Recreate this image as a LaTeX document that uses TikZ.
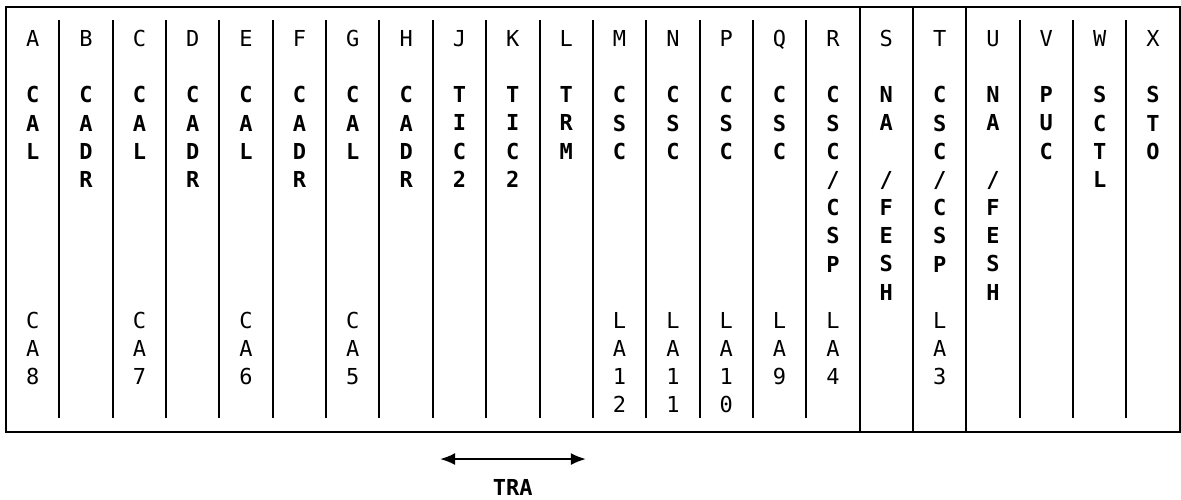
\documentclass[tikz,border=0pt]{standalone}
\usepackage{fontspec}
\setmonofont{DejaVu Sans Mono}
\usepackage{tikz}
\usetikzlibrary{arrows.meta}
\usetikzlibrary{positioning}
\tikzset{
	hdr/.style={font=\ttfamily\fontsize{22}{28.2}\selectfont, inner sep=0pt, anchor=north, align=center},
	modname/.style={hdr, font=\ttfamily\bfseries\fontsize{22}{28.2}\selectfont},
	slotid/.style={hdr},
	sep/.style={draw=black, line width=2pt},
	frame/.style={draw=black, line width=2pt},
	trarrow/.style={draw=black, line width=2pt, {Latex[length=15pt,width=12pt]}-{Latex[length=15pt,width=12pt]}},
}

\begin{document}
\begin{tikzpicture}[x=53.35pt,y=-28.2pt]
\useasboundingbox (-0.1125,-0.248) rectangle (22.024,17.447);
% frame and slot separators
\draw[frame] (0,0) rectangle (22,15.07);
\draw[sep] (1,0.46)--(1,14.57);
\draw[sep] (2,0.46)--(2,14.57);
\draw[sep] (3,0.46)--(3,14.57);
\draw[sep] (4,0.46)--(4,14.57);
\draw[sep] (5,0.46)--(5,14.57);
\draw[sep] (6,0.46)--(6,14.57);
\draw[sep] (7,0.46)--(7,14.57);
\draw[sep] (8,0.46)--(8,14.57);
\draw[sep] (9,0.46)--(9,14.57);
\draw[sep] (10,0.46)--(10,14.57);
\draw[sep] (11,0.46)--(11,14.57);
\draw[sep] (12,0.46)--(12,14.57);
\draw[sep] (13,0.46)--(13,14.57);
\draw[sep] (14,0.46)--(14,14.57);
\draw[sep] (15,0.46)--(15,14.57);
\draw[sep] (16,0)--(16,15.07);
\draw[sep] (17,0)--(17,15.07);
\draw[sep] (18,0)--(18,15.07);
\draw[sep] (19,0.46)--(19,14.57);
\draw[sep] (20,0.46)--(20,14.57);
\draw[sep] (21,0.46)--(21,14.57);

% slot letters
\node[hdr] (hA) at (0.5,0.815) {A};
\node[hdr] (hB) at (1.5,0.815) {B};
\node[hdr] (hC) at (2.5,0.815) {C};
\node[hdr] (hD) at (3.5,0.815) {D};
\node[hdr] (hE) at (4.5,0.815) {E};
\node[hdr] (hF) at (5.5,0.815) {F};
\node[hdr] (hG) at (6.5,0.815) {G};
\node[hdr] (hH) at (7.5,0.815) {H};
\node[hdr] (hJ) at (8.5,0.815) {J};
\node[hdr] (hK) at (9.5,0.815) {K};
\node[hdr] (hL) at (10.5,0.815) {L};
\node[hdr] (hM) at (11.5,0.815) {M};
\node[hdr] (hN) at (12.5,0.815) {N};
\node[hdr] (hP) at (13.5,0.815) {P};
\node[hdr] (hQ) at (14.5,0.815) {Q};
\node[hdr] (hR) at (15.5,0.815) {R};
\node[hdr] (hS) at (16.5,0.815) {S};
\node[hdr] (hT) at (17.5,0.815) {T};
\node[hdr] (hU) at (18.5,0.815) {U};
\node[hdr] (hV) at (19.5,0.815) {V};
\node[hdr] (hW) at (20.5,0.815) {W};
\node[hdr] (hX) at (21.5,0.815) {X};

% module names
\node[modname] (mA) at (0.5,2.815) {C\\A\\L};
\node[modname] (mB) at (1.5,2.815) {C\\A\\D\\R};
\node[modname] (mC) at (2.5,2.815) {C\\A\\L};
\node[modname] (mD) at (3.5,2.815) {C\\A\\D\\R};
\node[modname] (mE) at (4.5,2.815) {C\\A\\L};
\node[modname] (mF) at (5.5,2.815) {C\\A\\D\\R};
\node[modname] (mG) at (6.5,2.815) {C\\A\\L};
\node[modname] (mH) at (7.5,2.815) {C\\A\\D\\R};
\node[modname] (mJ) at (8.5,2.815) {T\\I\\C\\2};
\node[modname] (mK) at (9.5,2.815) {T\\I\\C\\2};
\node[modname] (mL) at (10.5,2.815) {T\\R\\M};
\node[modname] (mM) at (11.5,2.815) {C\\S\\C};
\node[modname] (mN) at (12.5,2.815) {C\\S\\C};
\node[modname] (mP) at (13.5,2.815) {C\\S\\C};
\node[modname] (mQ) at (14.5,2.815) {C\\S\\C};
\node[modname] (mR) at (15.5,2.815) {C\\S\\C\\/\\C\\S\\P};
\node[modname] (mS) at (16.5,2.815) {N\\A\\[28.2pt]/\\F\\E\\S\\H};
\node[modname] (mT) at (17.5,2.815) {C\\S\\C\\/\\C\\S\\P};
\node[modname] (mU) at (18.5,2.815) {N\\A\\[28.2pt]/\\F\\E\\S\\H};
\node[modname] (mV) at (19.5,2.815) {P\\U\\C};
\node[modname] (mW) at (20.5,2.815) {S\\C\\T\\L};
\node[modname] (mX) at (21.5,2.815) {S\\T\\O};

% slot ids
\node[slotid] (sA) at (0.5,10.815) {C\\A\\8};
\node[slotid] (sC) at (2.5,10.815) {C\\A\\7};
\node[slotid] (sE) at (4.5,10.815) {C\\A\\6};
\node[slotid] (sG) at (6.5,10.815) {C\\A\\5};
\node[slotid] (sM) at (11.5,10.815) {L\\A\\1\\2};
\node[slotid] (sN) at (12.5,10.815) {L\\A\\1\\1};
\node[slotid] (sP) at (13.5,10.815) {L\\A\\1\\0};
\node[slotid] (sQ) at (14.5,10.815) {L\\A\\9};
\node[slotid] (sR) at (15.5,10.815) {L\\A\\4};
\node[slotid] (sT) at (17.5,10.815) {L\\A\\3};

% TRA span
\coordinate (traL) at (8.135,16.03);
\coordinate (traR) at (10.87,16.03);
\draw[trarrow] (traL)--(traR);
\node[modname] (tra) at (9.5,16.735) {TRA};

\end{tikzpicture}
\end{document}
